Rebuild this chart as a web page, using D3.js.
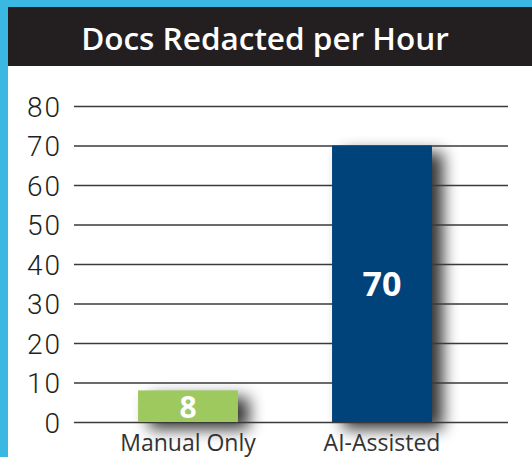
<!DOCTYPE html>
<html>
<head>
<meta charset="utf-8">
<script src="https://cdn.jsdelivr.net/npm/d3@7"></script>
<style>
  html, body { margin: 0; padding: 0; background: #fff; }
  #canvas { width: 532px; height: 457px; }
</style>
</head>
<body>
<div id="canvas"></div>
<script>
const categories = ["Manual Only", "AI-Assisted"];
const values = [8, 70];
const barColors = ["#9ec95f", "#00427a"];
const yTicks = [0, 10, 20, 30, 40, 50, 60, 70, 80];
const title = "Docs Redacted per Hour";

const w = 532, h = 457;

let svg = d3.select("#canvas")
            .append("svg")
                .attr("width", w)
                .attr("height", h)
                .attr("viewBox", [0, 0, w, h]);

// blur for the bar shadows
let defs = svg.append("defs");
defs.append("filter")
        .attr("id", "blur")
        .attr("x", "-50%").attr("y", "-50%")
        .attr("width", "200%").attr("height", "200%")
    .append("feGaussianBlur")
        .attr("stdDeviation", 8);

// frame
svg.append("rect").attr("x", 0).attr("y", 0).attr("width", w).attr("height", h).attr("fill", "#3bb8e2");
svg.append("rect").attr("x", 8).attr("y", 7).attr("width", w - 8).attr("height", h - 7).attr("fill", "#fff");
svg.append("rect").attr("x", 8).attr("y", 7).attr("width", w - 8).attr("height", 59).attr("fill", "#231f20");

svg.append("text")
    .attr("x", 265)
    .attr("y", 50)
    .attr("text-anchor", "middle")
    .attr("fill", "#fff")
    .style("font-family", "'Open Sans'")
    .style("font-weight", 600)
    .style("font-size", "31.5px")
    .text(title);

let x = d3.scaleBand()
    .domain(categories)
    .range([91, 479])
    .paddingInner(0.485)
    .paddingOuter(0.2425);

let y = d3.scaleLinear()
    .domain([0, 80])
    .range([422, 106]);

// shadows
svg.append("g")
    .selectAll("rect")
    .data(values)
    .enter().append("rect")
        .attr("x", (d, i) => x(categories[i]) + 11)
        .attr("y", (d) => y(d) + 7)
        .attr("width", x.bandwidth())
        .attr("height", (d) => y(0) - y(d))
        .attr("fill", "#000")
        .attr("opacity", 0.8)
        .attr("filter", "url(#blur)");

// y axis: gridlines + labels
let yAxis = d3.axisLeft(y)
    .tickValues(yTicks)
    .tickSize(-434)
    .tickPadding(12);

let gY = svg.append("g")
    .attr("transform", "translate(74,0)")
    .call(yAxis);
gY.select(".domain").remove();
gY.selectAll(".tick line")
    .attr("stroke", "#3a3a3a")
    .attr("stroke-width", 1.5);
gY.selectAll(".tick text")
    .attr("fill", "#231f20")
    .attr("dy", "0.36em")
    .style("font-family", "Roboto")
    .style("font-weight", 300)
    .style("letter-spacing", "2px")
    .style("font-size", "28px");

// bars
svg.append("g")
    .selectAll("rect")
    .data(values)
    .enter().append("rect")
        .attr("x", (d, i) => x(categories[i]))
        .attr("y", (d) => y(d))
        .attr("width", x.bandwidth())
        .attr("height", (d) => y(0) - y(d))
        .attr("fill", (d, i) => barColors[i]);

// value labels
svg.append("g")
    .selectAll("text")
    .data(values)
    .enter().append("text")
        .attr("x", (d, i) => x(categories[i]) + x.bandwidth() / 2)
        .attr("y", (d, i) => i === 0 ? y(0) - 4 : (y(d) + y(0)) / 2 + 12)
        .attr("text-anchor", "middle")
        .attr("fill", "#fff")
        .style("font-family", "'Open Sans'")
        .style("font-weight", 700)
        .style("font-size", (d, i) => i === 0 ? "30px" : "34px")
        .text((d) => d);

// category labels
let xAxis = d3.axisBottom(x).tickSize(0).tickPadding(0);
let gX = svg.append("g")
    .attr("transform", "translate(0," + y(0) + ")")
    .call(xAxis);
gX.select(".domain").remove();
gX.selectAll(".tick text")
    .attr("dy", "28.5px")
    .attr("fill", "#333")
    .style("font-family", "'Open Sans'")
    .style("font-size", "23px");
</script>
</body>
</html>
